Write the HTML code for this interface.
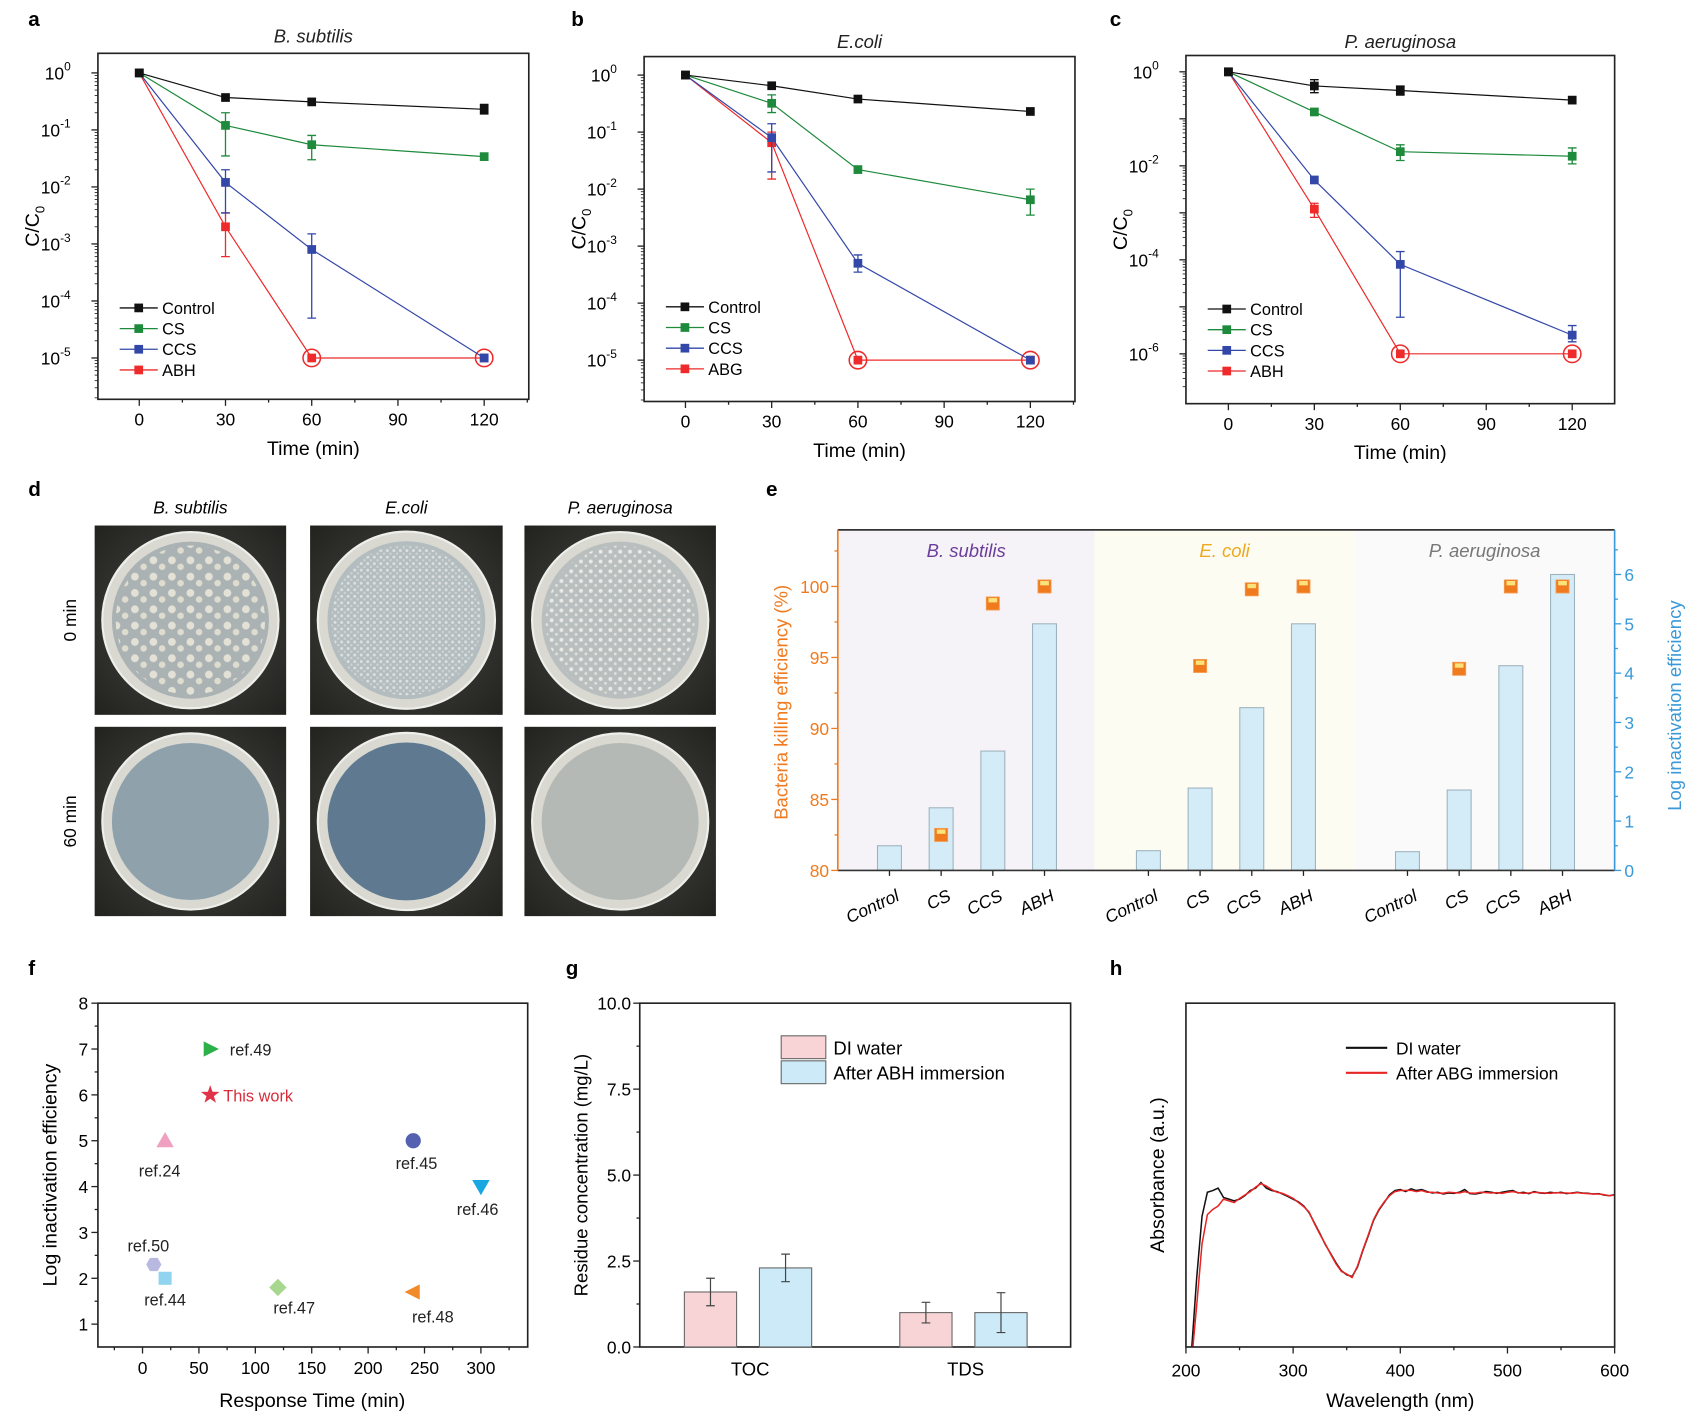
<!DOCTYPE html>
<html><head><meta charset="utf-8">
<style>
html,body{margin:0;padding:0;background:#fff;}
svg{display:block;font-family:"Liberation Sans",sans-serif;}
</style></head>
<body>
<svg id="fig" xmlns="http://www.w3.org/2000/svg" width="1697" height="1420" viewBox="0 0 1559.7 1305.1">
<defs>
<pattern id="colBig" width="17" height="15" patternUnits="userSpaceOnUse"><circle cx="5" cy="5" r="3.6" fill="#e9e6da"/><circle cx="13" cy="11" r="3" fill="#e4e0d2"/></pattern>
<pattern id="colSmall" width="6" height="6" patternUnits="userSpaceOnUse"><circle cx="2" cy="2" r="1.4" fill="#dfe3e3"/><circle cx="5" cy="5" r="1.2" fill="#cfd5d6"/></pattern>
<pattern id="colMed" width="9" height="9" patternUnits="userSpaceOnUse"><circle cx="3" cy="3" r="1.8" fill="#eeeeea"/><circle cx="7.5" cy="7" r="1.3" fill="#e6e6e0"/></pattern>
<radialGradient id="bgDark" cx="50%" cy="50%" r="75%"><stop offset="0" stop-color="#4a4a44"/><stop offset="1" stop-color="#1f1f1c"/></radialGradient>
</defs>
</svg>
<script>
// ---------- data: panels a-c ----------
const times = [0, 30, 60, 120];
const aControl = [1, 0.37, 0.31, 0.23];
const aControlLo = [null, null, null, 0.19];
const aControlHi = [null, null, null, 0.28];
const aCS = [1, 0.12, 0.055, 0.034];
const aCSLo = [null, 0.035, 0.03, null];
const aCSHi = [null, 0.2, 0.08, null];
const aCCS = [1, 0.012, 0.0008, 0.00001];
const aCCSLo = [null, 0.0035, 0.00005, null];
const aCCSHi = [null, 0.02, 0.0015, null];
const aABH = [1, 0.002, 0.00001, 0.00001];
const aABHLo = [null, 0.0006, null, null];
const aABHHi = [null, 0.0035, null, null];

const bControl = [1, 0.65, 0.38, 0.23];
const bCS = [1, 0.32, 0.022, 0.0065];
const bCSLo = [null, 0.22, null, 0.0035];
const bCSHi = [null, 0.45, null, 0.01];
const bCCS = [1, 0.08, 0.0005, 0.00001];
const bCCSLo = [null, 0.02, 0.00035, null];
const bCCSHi = [null, 0.14, 0.0007, null];
const bABG = [1, 0.065, 0.00001, 0.00001];
const bABGLo = [null, 0.015, null, null];
const bABGHi = [null, 0.1, null, null];

const cControl = [1, 0.5, 0.4, 0.25];
const cControlLo = [null, 0.36, 0.32, null];
const cControlHi = [null, 0.68, 0.5, null];
const cCS = [1, 0.14, 0.02, 0.016];
const cCSLo = [null, 0.12, 0.013, 0.011];
const cCSHi = [null, 0.16, 0.028, 0.024];
const cCCS = [1, 0.005, 0.00008, 0.0000025];
const cCCSLo = [null, null, 0.000006, 0.0000018];
const cCCSHi = [null, null, 0.00015, 0.000004];
const cABH = [1, 0.0012, 0.000001, 0.000001];
const cABHLo = [null, 0.0008, null, null];
const cABHHi = [null, 0.0016, null, null];

// ---------- data: panel e ----------
const eCats = ['Control', 'CS', 'CCS', 'ABH'];
const eGroups = ['B. subtilis', 'E. coli', 'P. aeruginosa'];
const eLogBS = [0.5, 1.27, 2.42, 5.0];
const eLogEC = [0.4, 1.67, 3.3, 5.0];
const eLogPA = [0.38, 1.63, 4.15, 6.0];
const eKillBS = [null, 82.5, 98.8, 100];
const eKillEC = [null, 94.4, 99.8, 100];
const eKillPA = [null, 94.2, 100, 100];
const eLeftTicks = [80, 85, 90, 95, 100];
const eRightTicks = [0, 1, 2, 3, 4, 5, 6];

// ---------- data: panel f ----------
const fLabels = ['ref.49', 'This work', 'ref.24', 'ref.45', 'ref.46', 'ref.50', 'ref.44', 'ref.47', 'ref.48'];
const fTime = [60, 60, 20, 240, 300, 10, 20, 120, 240];
const fLog = [7, 6, 5, 5, 4, 2.3, 2, 1.8, 1.7];
const fXTicks = [0, 50, 100, 150, 200, 250, 300];
const fYTicks = [1, 2, 3, 4, 5, 6, 7, 8];

// ---------- data: panel g ----------
const gCats = ['TOC', 'TDS'];
const gDI = [1.6, 1.0];
const gDIErr = [0.4, 0.3];
const gABH = [2.3, 1.0];
const gABHErr = [0.4, 0.58];
const gYTicks = [0, 2.5, 5, 7.5, 10];

// ---------- data: panel h ----------
const hWave = [205,210,215,220,225,230,235,240,245,250,255,260,265,270,275,280,285,290,295,300,305,310,315,320,325,330,335,340,345,350,355,360,365,370,375,380,385,390,395,400,405,410,415,420,425,430,435,440,445,450,455,460,465,470,475,480,485,490,495,500,505,510,515,520,525,530,535,540,545,550,555,560,565,570,575,580,585,590,595,600];
const hDI = [-0.02,0.2,0.38,0.45,0.455,0.462,0.435,0.43,0.425,0.43,0.44,0.455,0.462,0.478,0.462,0.455,0.452,0.445,0.438,0.43,0.422,0.41,0.39,0.36,0.33,0.298,0.272,0.245,0.222,0.21,0.205,0.232,0.28,0.322,0.368,0.398,0.42,0.443,0.455,0.458,0.452,0.46,0.455,0.458,0.452,0.448,0.45,0.445,0.448,0.447,0.45,0.458,0.446,0.445,0.448,0.452,0.45,0.447,0.45,0.453,0.455,0.448,0.45,0.446,0.452,0.448,0.447,0.45,0.448,0.45,0.446,0.448,0.45,0.448,0.447,0.445,0.446,0.442,0.44,0.443];
const hABG = [-0.05,0.12,0.3,0.385,0.4,0.41,0.43,0.425,0.42,0.432,0.442,0.452,0.465,0.475,0.468,0.458,0.45,0.447,0.44,0.432,0.42,0.408,0.392,0.358,0.328,0.3,0.27,0.242,0.22,0.212,0.202,0.235,0.282,0.325,0.37,0.4,0.422,0.44,0.452,0.455,0.455,0.456,0.452,0.455,0.45,0.45,0.448,0.447,0.45,0.449,0.448,0.452,0.448,0.447,0.45,0.449,0.448,0.449,0.447,0.45,0.452,0.449,0.447,0.448,0.45,0.449,0.448,0.447,0.449,0.448,0.448,0.447,0.449,0.447,0.446,0.445,0.445,0.443,0.44,0.442];

// ---------- helpers ----------
const NS = 'http://www.w3.org/2000/svg';
const svg = document.getElementById('fig');
function mk(tag, attrs, parent, text) {
  const e = document.createElementNS(NS, tag);
  for (const k in attrs) e.setAttribute(k, attrs[k]);
  if (text !== undefined) e.textContent = text;
  (parent || svg).appendChild(e);
  return e;
}
function grp(parent) { return mk('g', {}, parent); }

// panel letters
const letters = [['a',26,24],['b',525,24],['c',1020,24],['d',26,456],['e',704,456],['f',26,896],['g',520,896],['h',1020,896]];
letters.forEach(l => {
  const t = mk('text', {x: l[1], y: l[2], 'font-size': 19, 'font-weight': 'bold'}, svg, l[0]);
  
  
});

// ---------- log panels ----------
function logPanel(cfg) {
  const g = grp();
  
  
  const X = t => cfg.tx0 + t * (cfg.tx120 - cfg.tx0) / 120;
  const Y = v => cfg.yTop - Math.log10(v) * cfg.dec;
  const fr = mk('rect', {x: cfg.fx0, y: cfg.fy0, width: cfg.fx1 - cfg.fx0, height: cfg.fy1 - cfg.fy0, fill: 'none', stroke: '#222', 'stroke-width': 1.5}, g);
  
  
  const tt = mk('text', {x: (cfg.fx0 + cfg.fx1) / 2, y: cfg.titleY, 'text-anchor': 'middle', 'font-size': 17, 'font-style': 'italic', fill: '#222'}, g, cfg.title);
  
  
  for (let t = -15; t <= 135; t += 15) {
    const x = X(t);
    if (x < cfg.fx0 || x > cfg.fx1) continue;
    const major = t % 30 === 0;
    mk('line', {x1: x, x2: x, y1: cfg.fy1, y2: cfg.fy1 + (major ? 6 : 3), stroke: '#222', 'stroke-width': 1.2}, g);
    if (major && t >= 0 && t <= 120) {
      const lb = mk('text', {x: x, y: cfg.fy1 + 24, 'text-anchor': 'middle', 'font-size': 16}, g, String(t));
      
      
    }
  }
  const xl = mk('text', {x: (cfg.fx0 + cfg.fx1) / 2, y: cfg.fy1 + 51, 'text-anchor': 'middle', 'font-size': 18}, g, 'Time (min)');
  
  
  for (let d = 0; d <= cfg.nDec; d++) {
    const y = Y(Math.pow(10, -d));
    mk('line', {x1: cfg.fx0, x2: cfg.fx0 - 6, y1: y, y2: y, stroke: '#222', 'stroke-width': 1.2}, g);
    if (d % cfg.labStep === 0) {
      const lb = mk('text', {x: cfg.fx0 - 25, y: y + 6, 'text-anchor': 'end', 'font-size': 16}, g, '10');
      mk('tspan', {dy: -8, 'font-size': 11}, lb, d === 0 ? '0' : '-' + d);
      
      
    }
    for (let m = 2; m <= 9; m++) {
      const ym = Y(m * Math.pow(10, -d - 1));
      if (ym > cfg.fy1) continue;
      mk('line', {x1: cfg.fx0, x2: cfg.fx0 - 3, y1: ym, y2: ym, stroke: '#222', 'stroke-width': 0.8}, g);
    }
  }
  const yl = mk('text', {x: 0, y: 0, 'text-anchor': 'middle', 'font-size': 18, transform: `translate(${cfg.fx0 - 54},${(cfg.fy0 + cfg.fy1) / 2}) rotate(-90)`}, g, 'C/C');
  mk('tspan', {dy: 5, 'font-size': 12}, yl, '0');
  
  
  cfg.series.slice().reverse().forEach(s => {
    const sg = grp(g);
    
    
    const pts = s.vals.map((v, i) => X(times[i]) + ',' + Y(v)).join(' ');
    const pl = mk('polyline', {points: pts, fill: 'none', stroke: s.color, 'stroke-width': 1.1}, sg);
    
    
    s.vals.forEach((v, i) => {
      const x = X(times[i]);
      if (s.lo && s.lo[i] != null) {
        const e = mk('path', {d: `M${x},${Y(s.lo[i])}V${Y(s.hi[i])}M${x - 4},${Y(s.lo[i])}h8M${x - 4},${Y(s.hi[i])}h8`, stroke: s.color, 'stroke-width': 1.2, fill: 'none'}, sg);
        
        
      }
      const r = mk('rect', {x: x - 4, y: Y(v) - 4, width: 8, height: 8, fill: s.color}, sg);
      
      
      if (s.circle && i >= 2) {
        const c = mk('circle', {cx: x, cy: Y(v), r: 8, fill: 'none', stroke: s.color, 'stroke-width': 1.4}, sg);
        
        
      }
    });
  });
  const lg = grp(g);
  
  
  cfg.series.forEach((s, i) => {
    const y = cfg.legY + i * 19;
    const en = grp(lg);
    
    
    mk('line', {x1: cfg.legX, x2: cfg.legX + 35, y1: y, y2: y, stroke: s.color, 'stroke-width': 1.2}, en);
    mk('rect', {x: cfg.legX + 13.5, y: y - 4, width: 8, height: 8, fill: s.color}, en);
    mk('text', {x: cfg.legX + 39, y: y + 5.5, 'font-size': 15}, en, s.label);
  });
}
const BLK = '#111', GRN = '#1e8a3c', BLU = '#3347a8', RED = '#ee2a2a';
logPanel({name: 'panel-a-chart', fx0: 90, fx1: 486, fy0: 49, fy1: 367, tx0: 128, tx120: 445, yTop: 67, dec: 52.4, nDec: 5, labStep: 1, title: 'B. subtilis', titleY: 39, legX: 110, legY: 283,
  series: [{label: 'Control', vals: aControl, lo: aControlLo, hi: aControlHi, color: BLK},
           {label: 'CS', vals: aCS, lo: aCSLo, hi: aCSHi, color: GRN},
           {label: 'CCS', vals: aCCS, lo: aCCSLo, hi: aCCSHi, color: BLU},
           {label: 'ABH', vals: aABH, lo: aABHLo, hi: aABHHi, color: RED, circle: true}]});
logPanel({name: 'panel-b-chart', fx0: 592, fx1: 988, fy0: 52, fy1: 369, tx0: 630, tx120: 947, yTop: 69, dec: 52.4, nDec: 5, labStep: 1, title: 'E.coli', titleY: 44, legX: 612, legY: 282,
  series: [{label: 'Control', vals: bControl, lo: null, hi: null, color: BLK},
           {label: 'CS', vals: bCS, lo: bCSLo, hi: bCSHi, color: GRN},
           {label: 'CCS', vals: bCCS, lo: bCCSLo, hi: bCCSHi, color: BLU},
           {label: 'ABG', vals: bABG, lo: bABGLo, hi: bABGHi, color: RED, circle: true}]});
logPanel({name: 'panel-c-chart', fx0: 1090, fx1: 1484, fy0: 51, fy1: 371, tx0: 1129, tx120: 1445, yTop: 66, dec: 43.2, nDec: 6, labStep: 2, title: 'P. aeruginosa', titleY: 44, legX: 1110, legY: 284,
  series: [{label: 'Control', vals: cControl, lo: cControlLo, hi: cControlHi, color: BLK},
           {label: 'CS', vals: cCS, lo: cCSLo, hi: cCSHi, color: GRN},
           {label: 'CCS', vals: cCCS, lo: cCCSLo, hi: cCCSHi, color: BLU},
           {label: 'ABH', vals: cABH, lo: cABHLo, hi: cABHHi, color: RED, circle: true}]});

// ---------- panel d photos ----------
(function () {
  const g = grp();
  
  
  const cols = [[87, 263, 'B. subtilis'], [285, 462, 'E.coli'], [482, 658, 'P. aeruginosa']];
  const rows = [[483, 657, '0 min'], [668, 842, '60 min']];
  const fills = [['#aab2b4', '#b3bcbe', '#b9bfbf'], ['#8fa2ac', '#5f7a90', '#b5b9b5']];
  const pats = ['url(#colBig)', 'url(#colSmall)', 'url(#colMed)'];
  cols.forEach((c, ci) => {
    const t = mk('text', {x: (c[0] + c[1]) / 2, y: 472, 'text-anchor': 'middle', 'font-size': 16, 'font-style': 'italic'}, g, c[2]);
    
    
    rows.forEach((r, ri) => {
      const w = c[1] - c[0], h = r[1] - r[0];
      const bg = mk('rect', {x: c[0], y: r[0], width: w, height: h, fill: 'url(#bgDark)'}, g);
      
      
      const cx = c[0] + w / 2, cy = r[0] + h / 2;
      mk('circle', {cx: cx, cy: cy, r: w * 0.46, fill: '#d9d9d2', stroke: '#eeeeea', 'stroke-width': 2}, g);
      mk('circle', {cx: cx, cy: cy, r: w * 0.41, fill: fills[ri][ci]}, g);
      if (ri === 0) mk('circle', {cx: cx, cy: cy, r: w * 0.39, fill: pats[ci], opacity: 0.9}, g);
    });
  });
  rows.forEach(r => {
    const t = mk('text', {x: 0, y: 0, 'text-anchor': 'middle', 'font-size': 16, transform: `translate(70,${(r[0] + r[1]) / 2}) rotate(-90)`}, g, r[2]);
    
    
  });
})();

// ---------- panel e ----------
(function () {
  const g = grp();
  
  
  const fx0 = 770, fx1 = 1484, fy0 = 487, fy1 = 800;
  const YL = v => 800 - (v - 80) * (800 - 539) / 20;
  const YR = v => 800 - v * (800 - 528) / 6;
  const secs = [[770, 1006, '#f5f3f8', '#6a3d9a'], [1006, 1245, '#fdfcf2', '#f0a81e'], [1245, 1484, '#fafafa', '#777']];
  const groupX = [817.5, 1055.5, 1293.6];
  const logs = [eLogBS, eLogEC, eLogPA];
  const kills = [eKillBS, eKillEC, eKillPA];
  secs.forEach((s, si) => {
    const bg = mk('rect', {x: s[0], y: fy0, width: s[1] - s[0], height: fy1 - fy0, fill: s[2]}, g);
    
    
    const t = mk('text', {x: (s[0] + s[1]) / 2, y: 512, 'text-anchor': 'middle', 'font-size': 17, 'font-style': 'italic', fill: s[3]}, g, eGroups[si]);
    
    
    eCats.forEach((cat, i) => {
      const x = groupX[si] + i * 47.5;
      const b = mk('rect', {x: x - 11, y: YR(logs[si][i]), width: 22, height: fy1 - YR(logs[si][i]), fill: '#d4ecf8', stroke: '#9fb3bf', 'stroke-width': 1}, g);
      
      
      mk('line', {x1: x, x2: x, y1: fy1, y2: fy1 + 5, stroke: '#222', 'stroke-width': 1.2}, g);
      const lb = mk('text', {x: 0, y: 0, 'text-anchor': 'end', 'font-size': 16, 'font-style': 'italic', transform: `translate(${x + 10},${fy1 + 27}) rotate(-25)`}, g, cat);
      
      
      const k = kills[si][i];
      if (k != null) {
        const m = grp(g);
        
        
        mk('rect', {x: x - 6, y: YL(k) - 6, width: 12, height: 12, fill: '#f07a1e', stroke: '#f59b50', 'stroke-width': 0.8}, m);
        mk('rect', {x: x - 4, y: YL(k) - 5, width: 8, height: 4, fill: '#fbe27a'}, m);
      }
    });
  });
  mk('line', {x1: fx0, x2: fx1, y1: fy0, y2: fy0, stroke: '#333', 'stroke-width': 1.5}, g);
  mk('line', {x1: fx0, x2: fx1, y1: fy1, y2: fy1, stroke: '#333', 'stroke-width': 1.5}, g);
  const la = mk('line', {x1: fx0, x2: fx0, y1: fy0, y2: fy1, stroke: '#f07a1e', 'stroke-width': 1.5}, g);
  
  
  const ra = mk('line', {x1: fx1, x2: fx1, y1: fy0, y2: fy1, stroke: '#3a9ad9', 'stroke-width': 1.5}, g);
  
  
  for (let v = 80; v <= 102.5; v += 2.5) {
    const major = v % 5 === 0;
    mk('line', {x1: fx0, x2: fx0 - (major ? 6 : 3), y1: YL(v), y2: YL(v), stroke: '#f07a1e', 'stroke-width': 1.2}, g);
  }
  eLeftTicks.forEach(v => {
    const t = mk('text', {x: fx0 - 8, y: YL(v) + 6, 'text-anchor': 'end', 'font-size': 16, fill: '#f07a1e'}, g, String(v));
    
    
  });
  for (let v = 0; v <= 6.5; v += 0.5) {
    const major = v % 1 === 0;
    mk('line', {x1: fx1, x2: fx1 + (major ? 6 : 3), y1: YR(v), y2: YR(v), stroke: '#3a9ad9', 'stroke-width': 1.2}, g);
  }
  eRightTicks.forEach(v => {
    const t = mk('text', {x: fx1 + 9, y: YR(v) + 6, 'font-size': 16, fill: '#3a9ad9'}, g, String(v));
    
    
  });
  const lt = mk('text', {x: 0, y: 0, 'text-anchor': 'middle', 'font-size': 17, fill: '#f07a1e', transform: `translate(724,${(fy0 + fy1) / 2 + 2}) rotate(-90)`}, g, 'Bacteria killing efficiency (%)');
  
  
  const rt = mk('text', {x: 0, y: 0, 'text-anchor': 'middle', 'font-size': 17, fill: '#3a9ad9', transform: `translate(1545,${(fy0 + fy1) / 2 + 5}) rotate(-90)`}, g, 'Log inactivation efficiency');
  
  
})();

// ---------- panel f ----------
(function () {
  const g = grp();
  
  
  const fx0 = 90, fx1 = 485, fy0 = 922, fy1 = 1238;
  const X = t => 131 + t * (442 - 131) / 300;
  const Y = v => 922 + (8 - v) * (1217 - 922) / 7;
  mk('rect', {x: fx0, y: fy0, width: fx1 - fx0, height: fy1 - fy0, fill: 'none', stroke: '#222', 'stroke-width': 1.5}, g);
  for (let t = -25; t <= 325; t += 25) {
    const major = t % 50 === 0;
    mk('line', {x1: X(t), x2: X(t), y1: fy1, y2: fy1 + (major ? 6 : 3), stroke: '#222', 'stroke-width': 1.2}, g);
  }
  fXTicks.forEach(t => {
    const lb = mk('text', {x: X(t), y: fy1 + 25, 'text-anchor': 'middle', 'font-size': 16}, g, String(t));
    
    
  });
  for (let v = 1; v <= 8; v += 0.5) {
    const major = v % 1 === 0;
    mk('line', {x1: fx0, x2: fx0 - (major ? 6 : 3), y1: Y(v), y2: Y(v), stroke: '#222', 'stroke-width': 1.2}, g);
  }
  fYTicks.forEach(v => {
    const lb = mk('text', {x: fx0 - 9, y: Y(v) + 6, 'text-anchor': 'end', 'font-size': 16}, g, String(v));
    
    
  });
  const xl = mk('text', {x: 287, y: 1293, 'text-anchor': 'middle', 'font-size': 18}, g, 'Response Time (min)');
  
  
  const yl = mk('text', {x: 0, y: 0, 'text-anchor': 'middle', 'font-size': 18, transform: 'translate(52,1080) rotate(-90)'}, g, 'Log inactivation efficiency');
  
  
  const colors = ['#2bb04a', '#e0334a', '#f0a0c0', '#5560b0', '#1aa6e0', '#b8b8e0', '#90d4f0', '#a8d890', '#f08a2a'];
  const shapes = ['tri-right', 'star', 'tri-up', 'circle', 'tri-down', 'hex', 'square', 'diamond', 'tri-left'];
  const labOff = [[18, 6, 'start'], [12, 6, 'start'], [-5, 33, 'middle'], [3, 26, 'middle'], [-3, 26, 'middle'], [-5, -12, 'middle'], [0, 25, 'middle'], [15, 24, 'middle'], [18, 28, 'middle']];
  fLabels.forEach((lab, i) => {
    const x = X(fTime[i]), y = Y(fLog[i]);
    const pg = grp(g);
    
    
    const c = colors[i], s = 7;
    let d;
    switch (shapes[i]) {
      case 'tri-right': d = `M${x - 6},${y - 7}L${x + 8},${y}L${x - 6},${y + 7}Z`; break;
      case 'tri-left': d = `M${x + 6},${y - 7}L${x - 8},${y}L${x + 6},${y + 7}Z`; break;
      case 'tri-up': d = `M${x - 8},${y + 6}L${x},${y - 8}L${x + 8},${y + 6}Z`; break;
      case 'tri-down': d = `M${x - 8},${y - 6}L${x},${y + 8}L${x + 8},${y - 6}Z`; break;
      case 'square': d = `M${x - 6},${y - 6}h12v12h-12Z`; break;
      case 'diamond': d = `M${x},${y - 8}L${x + 8},${y}L${x},${y + 8}L${x - 8},${y}Z`; break;
      case 'hex': { const p = []; for (let k = 0; k < 6; k++) { const a = Math.PI / 3 * k; p.push((x + s * Math.cos(a)) + ',' + (y + s * Math.sin(a))); } d = 'M' + p.join('L') + 'Z'; break; }
      case 'star': { const p = []; for (let k = 0; k < 10; k++) { const a = -Math.PI / 2 + Math.PI / 5 * k; const r = k % 2 ? 3.6 : 9; p.push((x + r * Math.cos(a)) + ',' + (y + r * Math.sin(a))); } d = 'M' + p.join('L') + 'Z'; break; }
      default: d = null;
    }
    if (d) mk('path', {d: d, fill: c}, pg); else mk('circle', {cx: x, cy: y, r: 7, fill: c}, pg);
    mk('text', {x: x + labOff[i][0], y: y + labOff[i][1], 'text-anchor': labOff[i][2], 'font-size': 15, fill: i === 1 ? '#d92b3a' : '#222'}, pg, lab);
  });
})();

// ---------- panel g ----------
(function () {
  const g = grp();
  
  
  const fx0 = 588, fx1 = 984, fy0 = 922, fy1 = 1238;
  const Y = v => fy1 - v * (fy1 - fy0) / 10;
  const catX = [687.5, 885.5];
  mk('rect', {x: fx0, y: fy0, width: fx1 - fx0, height: fy1 - fy0, fill: 'none', stroke: '#222', 'stroke-width': 1.5}, g);
  for (let v = 0; v <= 10; v += 1.25) {
    const major = v % 2.5 === 0;
    mk('line', {x1: fx0, x2: fx0 - (major ? 6 : 3), y1: Y(v), y2: Y(v), stroke: '#222', 'stroke-width': 1.2}, g);
  }
  gYTicks.forEach(v => {
    const lb = mk('text', {x: fx0 - 8, y: Y(v) + 6, 'text-anchor': 'end', 'font-size': 16}, g, v.toFixed(1));
    
    
  });
  const yl = mk('text', {x: 0, y: 0, 'text-anchor': 'middle', 'font-size': 17, transform: 'translate(540,1080) rotate(-90)'}, g, 'Residue concentration (mg/L)');
  
  
  gCats.forEach((cat, i) => {
    const lb = mk('text', {x: catX[i] + 2, y: fy1 + 26, 'text-anchor': 'middle', 'font-size': 17}, g, cat);
    
    
    [[gDI, gDIErr, -34.5, '#f9d4d6', 'di-water'], [gABH, gABHErr, 34.5, '#cdeaf9', 'after-abh']].forEach(sr => {
      const cx = catX[i] + sr[2], v = sr[0][i], e = sr[1][i];
      const b = mk('rect', {x: cx - 24, y: Y(v), width: 48, height: fy1 - Y(v), fill: sr[3], stroke: '#666', 'stroke-width': 1}, g);
      
      
      const eb = mk('path', {d: `M${cx},${Y(v - e)}V${Y(v + e)}M${cx - 4},${Y(v - e)}h8M${cx - 4},${Y(v + e)}h8`, stroke: '#444', 'stroke-width': 1.1, fill: 'none'}, g);
      
      
    });
  });
  const lg = grp(g);
  
  
  mk('rect', {x: 718, y: 952, width: 41, height: 21, fill: '#f9d4d6', stroke: '#666'}, lg);
  mk('rect', {x: 718, y: 975, width: 41, height: 21, fill: '#cdeaf9', stroke: '#666'}, lg);
  mk('text', {x: 766, y: 969, 'font-size': 17}, lg, 'DI water');
  mk('text', {x: 766, y: 992, 'font-size': 17}, lg, 'After ABH immersion');
})();

// ---------- panel h ----------
(function () {
  const g = grp();
  
  
  const fx0 = 1090, fx1 = 1484, fy0 = 922, fy1 = 1238;
  const X = w => fx0 + (w - 200) * (fx1 - fx0) / 400;
  const Y = v => fy1 - v * (fy1 - fy0);
  const cp = mk('clipPath', {id: 'hclip'}, g);
  mk('rect', {x: fx0, y: fy0, width: fx1 - fx0, height: fy1 - fy0}, cp);
  [[hDI, '#111', 'line-di-water'], [hABG, '#e82424', 'line-after-abg']].forEach(s => {
    const pts = s[0].map((v, i) => X(hWave[i]) + ',' + Y(v)).join(' ');
    const pl = mk('polyline', {points: pts, fill: 'none', stroke: s[1], 'stroke-width': 1.4, 'clip-path': 'url(#hclip)'}, g);
    
    
  });
  mk('rect', {x: fx0, y: fy0, width: fx1 - fx0, height: fy1 - fy0, fill: 'none', stroke: '#222', 'stroke-width': 1.5}, g);
  for (let w = 200; w <= 600; w += 50) {
    const major = w % 100 === 0;
    mk('line', {x1: X(w), x2: X(w), y1: fy1, y2: fy1 + (major ? 6 : 3), stroke: '#222', 'stroke-width': 1.2}, g);
    if (major) {
      const lb = mk('text', {x: X(w), y: fy1 + 27, 'text-anchor': 'middle', 'font-size': 16}, g, String(w));
      
      
    }
  }
  const xl = mk('text', {x: 1287, y: 1293, 'text-anchor': 'middle', 'font-size': 18}, g, 'Wavelength (nm)');
  
  
  const yl = mk('text', {x: 0, y: 0, 'text-anchor': 'middle', 'font-size': 18, transform: 'translate(1070,1080) rotate(-90)'}, g, 'Absorbance (a.u.)');
  
  
  const lg = grp(g);
  
  
  mk('line', {x1: 1237, x2: 1275, y1: 963, y2: 963, stroke: '#111', 'stroke-width': 2}, lg);
  mk('line', {x1: 1237, x2: 1275, y1: 986, y2: 986, stroke: '#e82424', 'stroke-width': 2}, lg);
  mk('text', {x: 1283, y: 969, 'font-size': 16}, lg, 'DI water');
  mk('text', {x: 1283, y: 992, 'font-size': 16}, lg, 'After ABG immersion');
})();
</script>
</body></html>
